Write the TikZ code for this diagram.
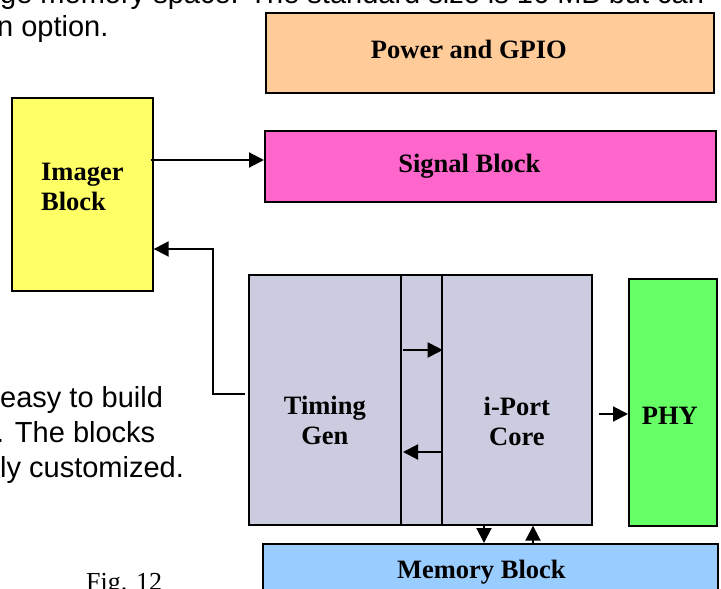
\documentclass[tikz,border=0pt]{standalone}
\usepackage{fontspec}
\setmainfont{Liberation Serif}
\newfontfamily\bodyfont{Liberation Sans}
\usetikzlibrary{arrows.meta}

\definecolor{peach}{HTML}{FFCC99}
\definecolor{pinkblk}{HTML}{FF66CC}
\definecolor{yellowblk}{HTML}{FFFF66}
\definecolor{greyblk}{HTML}{CCCCE0}
\definecolor{greenblk}{HTML}{66FF66}
\definecolor{blueblk}{HTML}{99CCFF}

\begin{document}
\begin{tikzpicture}[x=1pt,y=-1pt,
    blk/.style={draw,line width=1.7pt,inner sep=0pt,anchor=north west},
    lbl/.style={font=\fontsize{26.5}{30}\selectfont\bfseries,align=center,inner sep=0pt},
    arr/.style={-{Triangle[length=15pt,width=15pt]},line width=2pt},
    prose/.style={anchor=base west,inner sep=0pt,font=\bodyfont\fontsize{29}{35}\selectfont}]
  \useasboundingbox (0,0) rectangle (721,589);
  \clip (0,0) rectangle (721,589);

  % text of the page round the figure
  \node[prose] (p1) at (0,3) {ge memory space. The standard size is 16 MB but can};
  \node[prose] (p2) at (-3,36) {n option.};
  \node[prose] (p3) at (0,407) {easy to build};
  \node[prose] (p4) at (-4,442) {. The blocks};
  \node[prose] (p5) at (0,477) {ly customized.};
  \node[anchor=base west,inner sep=0pt,font=\fontsize{26}{30}\selectfont] (fig) at (86,590) {Fig. 12};

  % blocks
  \node[blk,fill=peach,minimum width=448pt,minimum height=80pt,
    label={[lbl,xshift=-21pt,yshift=3pt]center:Power and GPIO}] (power) at (265,12) {};
  \node[blk,fill=pinkblk,minimum width=451pt,minimum height=71pt,
    label={[lbl,xshift=-21pt]center:Signal Block}] (signal) at (264,130) {};
  \node[blk,fill=yellowblk,minimum width=141pt,minimum height=193pt,
    label={[lbl,align=left,yshift=7pt]center:Imager\\Block}] (imager) at (11,97) {};
  \node[blk,fill=greyblk,minimum width=152pt,minimum height=250pt,
    label={[lbl,yshift=-21pt]center:Timing\\Gen}] (timing) at (248,274) {};
  \node[blk,fill=greyblk,minimum width=41pt,minimum height=250pt] (bus) at (400,274) {};
  \node[blk,fill=greyblk,minimum width=150pt,minimum height=250pt,
    label={[lbl,yshift=-22pt]center:i-Port\\Core}] (core) at (441,274) {};
  \node[blk,fill=greenblk,minimum width=88pt,minimum height=247pt,
    label={[lbl,xshift=-3pt,yshift=-13pt]center:PHY}] (phy) at (628,278) {};
  \node[blk,fill=blueblk,minimum width=455pt,minimum height=57pt,
    label={[lbl,xshift=-9pt]center:Memory Block}] (memory) at (262,543) {};

  % connections
  \draw[arr] ([xshift=-3pt]imager.east |- 0,160) -- (signal.west |- 0,160);
  \coordinate (bend) at (213,249);
  \draw[arr] ([xshift=-3pt]timing.west |- 0,394) -| (bend) -- (imager.east |- bend);
  \draw[arr,shorten <=3pt] (bus.west |- 0,350) -- (bus.east |- 0,350);
  \draw[arr,shorten >=3pt] (bus.east |- 0,452) -- (bus.west |- 0,452);
  \draw[arr,shorten <=6pt] (core.east |- 0,414) -- (phy.west |- 0,414);
  \draw[arr] (core.south -| 484,0) -- (memory.north -| 484,0);
  \draw[arr] (memory.north -| 533,0) -- (core.south -| 533,0);
\end{tikzpicture}
\end{document}
